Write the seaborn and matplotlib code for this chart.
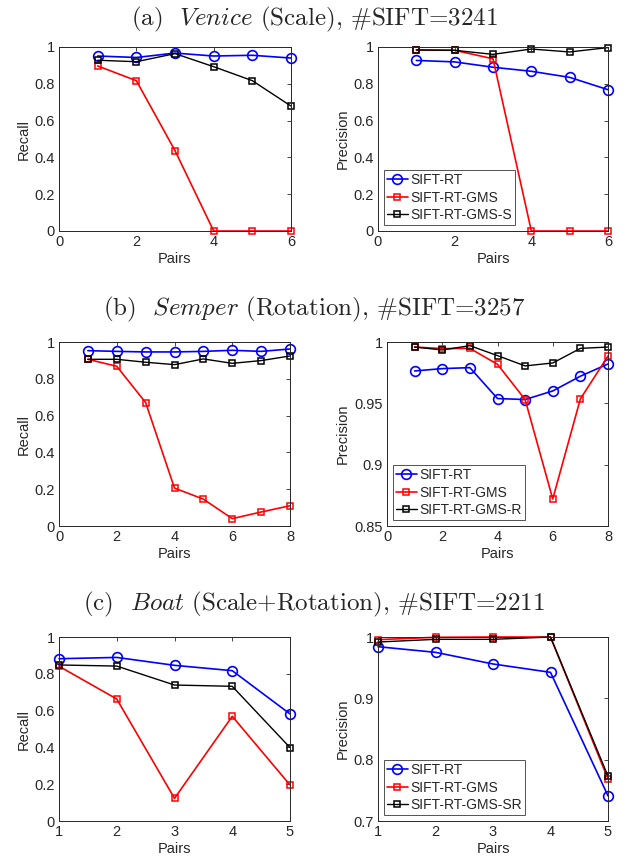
import seaborn as sns
import matplotlib.pyplot as plt

sns.set_style("white")
plt.rcParams['font.family'] = ['Liberation Sans', 'DejaVu Sans']
plt.rcParams['mathtext.fontset'] = 'cm'

# (a) Venice (Scale)
venice_x = [1, 2, 3, 4, 5, 6]
venice_recall_rt = [0.951, 0.943, 0.967, 0.951, 0.955, 0.940]
venice_recall_gms = [0.897, 0.817, 0.437, 0.0, 0.0, 0.0]
venice_recall_gmss = [0.928, 0.920, 0.964, 0.893, 0.817, 0.679]
venice_prec_rt = [0.927, 0.919, 0.890, 0.868, 0.835, 0.768]
venice_prec_gms = [0.984, 0.982, 0.936, 0.0, 0.0, 0.0]
venice_prec_gmss = [0.984, 0.982, 0.960, 0.989, 0.973, 0.997]

# (b) Semper (Rotation)
semper_x = [1, 2, 3, 4, 5, 6, 7, 8]
semper_recall_rt = [0.953, 0.949, 0.946, 0.946, 0.949, 0.955, 0.949, 0.962]
semper_recall_gms = [0.906, 0.868, 0.671, 0.206, 0.146, 0.040, 0.076, 0.110]
semper_recall_gmsr = [0.906, 0.906, 0.890, 0.877, 0.908, 0.884, 0.899, 0.924]
semper_prec_rt = [0.9764, 0.9783, 0.9791, 0.9539, 0.9531, 0.9601, 0.9721, 0.9821]
semper_prec_gms = [0.9959, 0.9946, 0.9948, 0.9818, 0.9531, 0.8720, 0.9536, 0.9886]
semper_prec_gmsr = [0.9959, 0.9935, 0.9970, 0.9889, 0.9805, 0.9829, 0.9948, 0.9959]

# (c) Boat (Scale+Rotation)
boat_x = [1, 2, 3, 4, 5]
boat_recall_rt = [0.882, 0.889, 0.846, 0.817, 0.582]
boat_recall_gms = [0.841, 0.663, 0.123, 0.569, 0.196]
boat_recall_gmssr = [0.848, 0.842, 0.739, 0.732, 0.399]
boat_prec_rt = [0.9842, 0.9750, 0.9560, 0.9424, 0.7410]
boat_prec_gms = [0.9957, 0.9995, 1.0, 1.0, 0.7685]
boat_prec_gmssr = [0.9918, 0.9962, 0.9962, 1.0, 0.7730]

titles = [r'(a)  $\mathit{Venice}$ (Scale), #SIFT=3241',
          r'(b)  $\mathit{Semper}$ (Rotation), #SIFT=3257',
          r'(c)  $\mathit{Boat}$ (Scale+Rotation), #SIFT=2211']

W, H = 628, 863
fig = plt.figure(figsize=(W / 100, H / 100), dpi=100)
ink = '0.15'


def make_ax(x0, y0, x1, y1):
    return fig.add_axes([x0 / W, 1 - y1 / H, (x1 - x0) / W, (y1 - y0) / H])


def draw(ax, x, rt, gms, gms2, name2, xlim, xticks, ylim, yticks, ylabel, legend):
    sns.lineplot(x=x, y=rt, ax=ax, color='blue', marker='o', markersize=7,
                 markerfacecolor='none', markeredgecolor='blue', markeredgewidth=1.2,
                 linewidth=1.2, label='SIFT-RT', clip_on=False)
    sns.lineplot(x=x, y=gms, ax=ax, color='red', marker='s', markersize=5,
                 markerfacecolor='none', markeredgecolor='red', markeredgewidth=1.1,
                 linewidth=1.2, label='SIFT-RT-GMS', clip_on=False)
    sns.lineplot(x=x, y=gms2, ax=ax, color='black', marker='s', markersize=5,
                 markerfacecolor='none', markeredgecolor='black', markeredgewidth=1.1,
                 linewidth=1.0, label=name2, clip_on=False)
    ax.set_xlim(*xlim)
    ax.set_ylim(*ylim)
    ax.set_xticks(xticks)
    ax.set_yticks(yticks)
    ax.set_yticklabels([('%g' % t) for t in yticks])
    ax.set_xlabel('Pairs', fontsize=10.5, color=ink, labelpad=2)
    ax.set_ylabel(ylabel, fontsize=10.5, color=ink, labelpad=3)
    ax.tick_params(direction='in', length=3, width=0.6, top=True, right=True,
                   labelsize=10.5, colors=ink, pad=3)
    for s in ax.spines.values():
        s.set_color(ink)
        s.set_linewidth(0.7)
    if legend:
        leg = ax.legend(loc='lower left', fontsize=10, frameon=True, fancybox=False,
                        edgecolor=ink, handlelength=1.5, handletextpad=0.15,
                        borderpad=0.25, labelspacing=0.25, borderaxespad=0.4)
        leg.get_frame().set_linewidth(0.7)
        for t in leg.get_texts():
            t.set_color(ink)
    else:
        ax.get_legend().remove()


recall_ticks = [0, 0.2, 0.4, 0.6, 0.8, 1]

ax = make_ax(59, 47, 291, 231)
draw(ax, venice_x, venice_recall_rt, venice_recall_gms, venice_recall_gmss, 'SIFT-RT-GMS-S',
     (0, 6), [0, 2, 4, 6], (0, 1), recall_ticks, 'Recall', False)
ax = make_ax(378, 47, 608, 231)
draw(ax, venice_x, venice_prec_rt, venice_prec_gms, venice_prec_gmss, 'SIFT-RT-GMS-S',
     (0, 6), [0, 2, 4, 6], (0, 1), recall_ticks, 'Precision', True)

ax = make_ax(59, 342, 290, 526)
draw(ax, semper_x, semper_recall_rt, semper_recall_gms, semper_recall_gmsr, 'SIFT-RT-GMS-R',
     (0, 8), [0, 2, 4, 6, 8], (0, 1), recall_ticks, 'Recall', False)
ax = make_ax(387, 342, 608, 526)
draw(ax, semper_x, semper_prec_rt, semper_prec_gms, semper_prec_gmsr, 'SIFT-RT-GMS-R',
     (0, 8), [0, 2, 4, 6, 8], (0.85, 1), [0.85, 0.9, 0.95, 1], 'Precision', True)

ax = make_ax(59, 637, 290, 821)
draw(ax, boat_x, boat_recall_rt, boat_recall_gms, boat_recall_gmssr, 'SIFT-RT-GMS-SR',
     (1, 5), [1, 2, 3, 4, 5], (0, 1), recall_ticks, 'Recall', False)
ax = make_ax(378, 637, 608, 821)
draw(ax, boat_x, boat_prec_rt, boat_prec_gms, boat_prec_gmssr, 'SIFT-RT-GMS-SR',
     (1, 5), [1, 2, 3, 4, 5], (0.7, 1), [0.7, 0.8, 0.9, 1], 'Precision', True)

for yc, t in zip([19, 309, 604], titles):
    fig.text(314 / W, 1 - yc / H, t, ha='center', va='center', fontsize=18,
             family=['cmr10', 'DejaVu Serif'])

fig.savefig('out.png', dpi=100)
